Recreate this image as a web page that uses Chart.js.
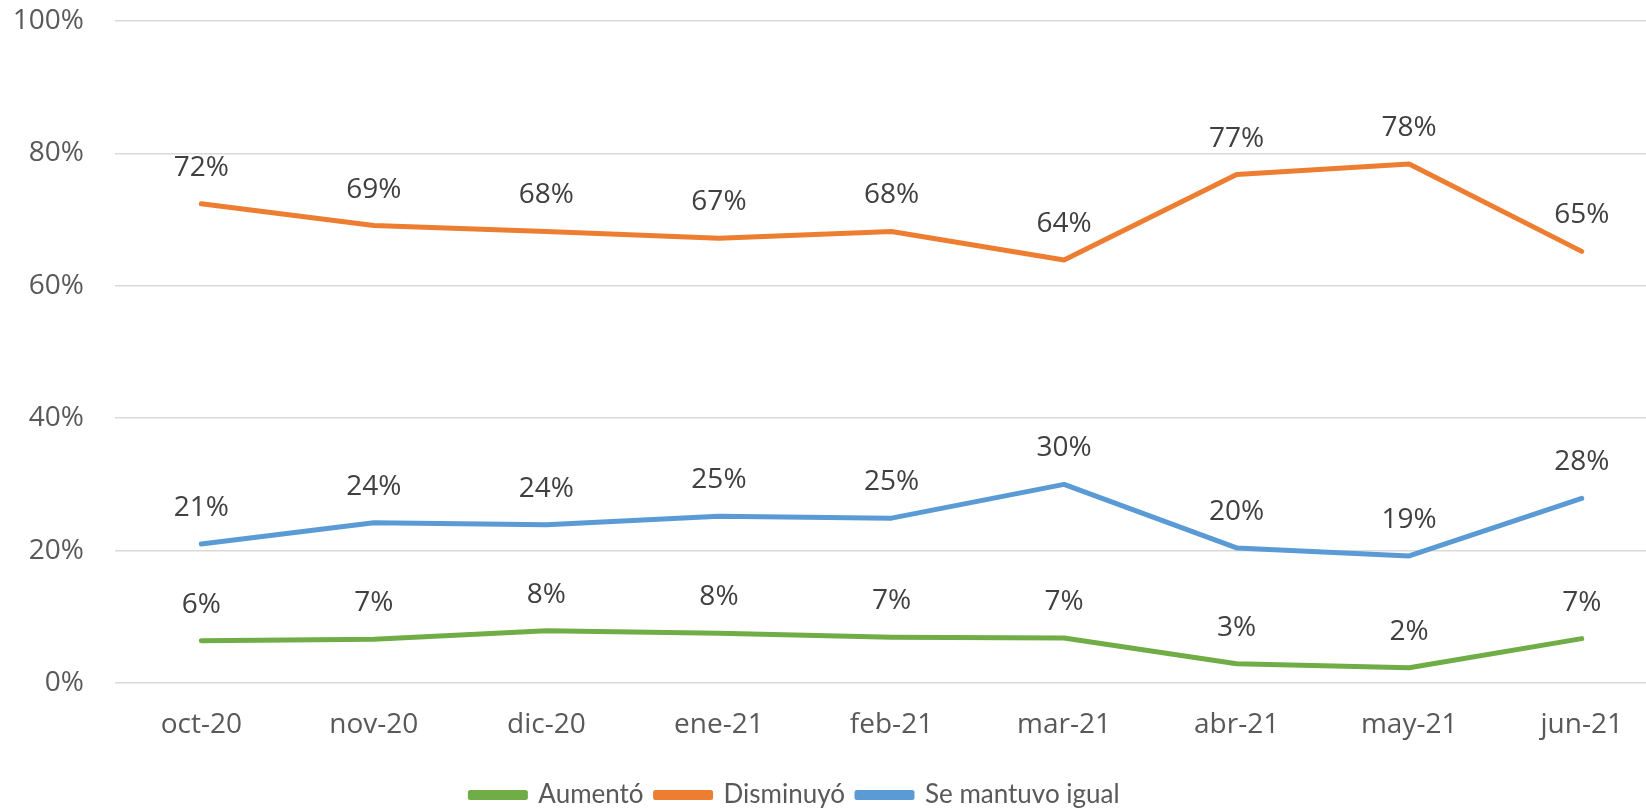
<!DOCTYPE html>
<html>
<head>
<meta charset="utf-8">
<script src="https://cdn.jsdelivr.net/npm/chart.js"></script>
<style>
  html, body { margin: 0; padding: 0; background: #fff; overflow: hidden; width: 1646px; height: 809px; }
  #wrap { position: absolute; left: -78px; top: 0; width: 1746px; height: 818px; }
</style>
</head>
<body>
<div id="wrap"><canvas id="trend-chart" width="1746" height="818"></canvas></div>
<script>
  // data
  const months = ["oct-20", "nov-20", "dic-20", "ene-21", "feb-21", "mar-21", "abr-21", "may-21", "jun-21"];
  const aumento = [6.4, 6.6, 7.9, 7.5, 6.9, 6.8, 2.9, 2.3, 6.7];
  const disminuyo = [72.4, 69.1, 68.2, 67.2, 68.2, 63.9, 76.8, 78.4, 65.2];
  const igual = [21.0, 24.2, 23.9, 25.2, 24.9, 30.0, 20.4, 19.2, 27.9];
  const yTicks = [0, 20, 40, 60, 80, 100];

  const labelFont = "'Open Sans', 'Noto Sans', sans-serif";

  // draws the rounded value above each point
  const pointLabels = {
    id: "pointLabels",
    afterDatasetsDraw(chart) {
      const ctx = chart.ctx;
      ctx.save();
      ctx.font = "28px " + labelFont;
      ctx.fillStyle = "#404040";
      ctx.textAlign = "center";
      ctx.textBaseline = "middle";
      chart.data.datasets.forEach((ds, i) => {
        chart.getDatasetMeta(i).data.forEach((pt, j) => {
          ctx.fillText(Math.round(ds.data[j]) + "%", pt.x, pt.y - 36);
        });
      });
      ctx.restore();
    },
  };

  const ctx = document.getElementById("trend-chart").getContext("2d");
  const trendChart = new Chart(ctx, {
    type: "line",
    data: {
      labels: months,
      datasets: [
        { label: "Aumentó", data: aumento, borderColor: "#70ad47", backgroundColor: "#70ad47" },
        { label: "Disminuyó", data: disminuyo, borderColor: "#ed7d31", backgroundColor: "#ed7d31" },
        { label: "Se mantuvo igual", data: igual, borderColor: "#5b9bd5", backgroundColor: "#5b9bd5" },
      ],
    },
    options: {
      responsive: false,
      animation: false,
      devicePixelRatio: 1,
      layout: { padding: 0 },
      elements: {
        line: { borderWidth: 5, tension: 0, borderCapStyle: "round", borderJoinStyle: "round", fill: false },
        point: { radius: 0, hoverRadius: 0 },
      },
      plugins: {
        tooltip: { enabled: false },
        legend: {
          position: "bottom",
          labels: {
            boxWidth: 55,
            boxHeight: 5,
            padding: 12,
            color: "#595959",
            font: { size: 26, family: "Lato, 'Open Sans', sans-serif" },
          },
        },
      },
      scales: {
        x: {
          offset: true,
          grid: { display: false, drawTicks: false },
          border: { display: false },
          ticks: { padding: 25, color: "#595959", font: { size: 28, family: labelFont } },
          afterFit(scale) { scale.height = 87; },
        },
        y: {
          min: 0,
          max: 100,
          afterBuildTicks(scale) { scale.ticks = yTicks.map(v => ({ value: v })); },
          grid: { color: "#d9d9d9", lineWidth: 1.5, drawTicks: false },
          border: { display: false },
          ticks: {
            padding: 31,
            color: "#595959",
            font: { size: 28, family: labelFont },
            callback: v => v + "%",
          },
          afterFit(scale) {
            scale.width = 193;
            scale.paddingTop = 21;
          },
        },
      },
    },
    plugins: [pointLabels],
  });
</script>
</body>
</html>
